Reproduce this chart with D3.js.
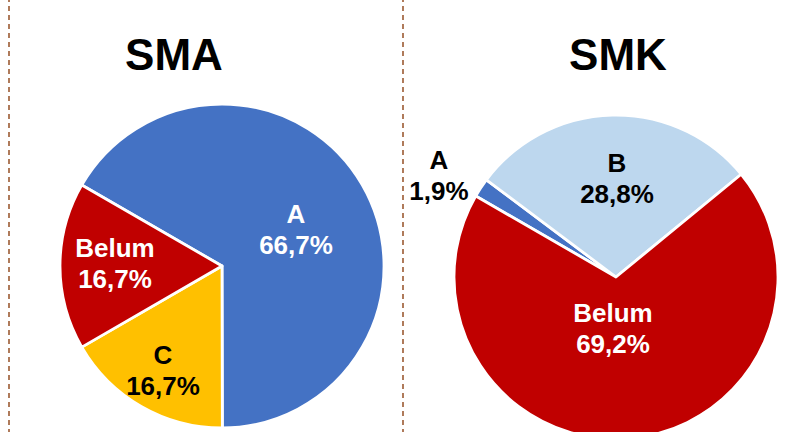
<!DOCTYPE html>
<html><head><meta charset="utf-8">
<script src="https://cdn.jsdelivr.net/npm/d3@7"></script>
<style>body{margin:0;background:#fff}svg{display:block}text{font-family:Arial,"Liberation Sans",sans-serif;font-weight:bold}</style>
</head><body>
<svg id="c" width="791" height="432"></svg>
<script>
const categories = ["A", "B", "C", "Belum"];
const colors = ["#4472C4", "#BDD7EE", "#FFC000", "#C00000"];
const smaValues = [66.7, 0, 16.7, 16.7];
const smkValues = [1.9, 28.8, 0, 69.2];
const titles = ["SMA", "SMK"];
const smaLabels = [["A","66,7%"], null, ["C","16,7%"], ["Belum","16,7%"]];
const smkLabels = [["A","1,9%"], ["B","28,8%"], null, ["Belum","69,2%"]];

const svg = d3.select("#c");
const W = 791, H = 432;

// dashed separators
[9, 403].forEach(x => {
  svg.append("line").attr("x1", x).attr("x2", x).attr("y1", -3).attr("y2", H)
    .attr("stroke", "#9C5A32").attr("stroke-width", 1.6).attr("stroke-dasharray", "5,4");
});

const R = 162;
const startA = -Math.PI / 3;
const pie = d3.pie().sort(null).value(d => d).startAngle(startA).endAngle(startA + 2 * Math.PI);
const arc = d3.arc().innerRadius(0).outerRadius(R);

const panels = [
  {title: titles[0], values: smaValues, labels: smaLabels, cx: 222, cy: 266, tx: 174, ty: 70,
   lpos: [[296, 223], null, [163, 364], [115, 257]], lcol: ["#fff", "#000", "#000", "#fff"]},
  {title: titles[1], values: smkValues, labels: smkLabels, cx: 616, cy: 277, tx: 618, ty: 70,
   lpos: [[439, 169], [617, 172], null, [613, 322]], lcol: ["#000", "#000", "#000", "#fff"]}
];

panels.forEach(p => {
  svg.append("text").attr("x", p.tx).attr("y", p.ty).attr("text-anchor", "middle")
    .attr("font-size", 44).attr("fill", "#000").text(p.title);
  const g = svg.append("g").attr("transform", `translate(${p.cx},${p.cy})`);
  const arcs = pie(p.values);
  g.selectAll("path").data(arcs.filter(d => d.value > 0)).join("path")
    .attr("d", arc).attr("fill", d => colors[d.index])
    .attr("stroke", "#fff").attr("stroke-width", 2.8).attr("stroke-linejoin", "round");
  arcs.forEach((d, i) => {
    if (!p.labels[i] || !p.lpos[i]) return;
    const [lx, ly] = p.lpos[i];
    const t = svg.append("text").attr("text-anchor", "middle").attr("font-size", 26)
      .attr("fill", p.lcol[i]);
    t.append("tspan").attr("x", lx).attr("y", ly).text(p.labels[i][0]);
    t.append("tspan").attr("x", lx).attr("y", ly + 31).text(p.labels[i][1]);
  });
});
</script>
</body></html>
